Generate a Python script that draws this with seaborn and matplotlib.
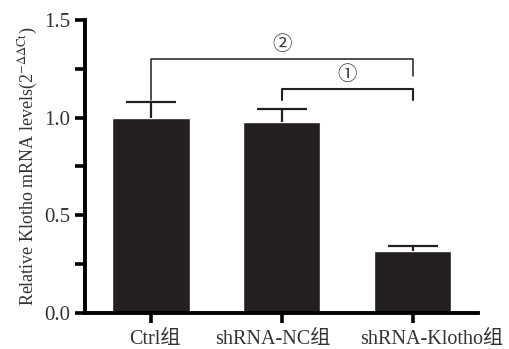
import matplotlib
matplotlib.use('Agg')
import matplotlib.pyplot as plt
import matplotlib.transforms as mtransforms
import seaborn as sns
import pandas as pd
from matplotlib.ticker import MultipleLocator, FormatStrFormatter

groups = ['Ctrl组', 'shRNA-NC组', 'shRNA-Klotho组']
levels = [1.00, 0.975, 0.32]
errors = [0.08, 0.07, 0.025]

df = pd.DataFrame({'group': groups, 'level': levels})

sns.set_style('ticks')
plt.rcParams['font.family'] = ['Liberation Serif', 'Noto Sans CJK SC', 'DejaVu Sans']
plt.rcParams['mathtext.fontset'] = 'stix'

fig = plt.figure(figsize=(5.1, 3.49), dpi=100)
ax = fig.add_axes([0.167, 0.103, 0.770, 0.840])

dark = '#231f20'
sns.barplot(data=df, x='group', y='level', color=dark, saturation=1,
            width=0.59, errorbar=None, ax=ax)
eb = ax.errorbar(range(len(groups)), levels, yerr=[[0] * 3, errors], fmt='none',
                 ecolor=dark, elinewidth=1.6, capsize=18, capthick=1.6)
eb[1][0].set_visible(False)  # hide the lower caps

# significance brackets
lw = 1.1
ax.plot([0, 0, 2, 2], [1.09, 1.30, 1.30, 1.215], color=dark, lw=lw)
ax.plot([1, 1, 2, 2], [1.09, 1.148, 1.148, 1.09], color=dark, lw=1.5)
ax.text(1, 1.32, '②', ha='center', va='bottom', fontsize=14,
        family=['Noto Sans CJK SC', 'DejaVu Sans'], color='#333333')
ax.text(1.5, 1.165, '①', ha='center', va='bottom', fontsize=14,
        family=['Noto Sans CJK SC', 'DejaVu Sans'], color='#333333')

ax.set_ylim(0, 1.5)
ax.set_xlim(-0.504, 2.5)
ax.yaxis.set_major_locator(MultipleLocator(0.5))
ax.yaxis.set_minor_locator(MultipleLocator(0.25))
ax.yaxis.set_major_formatter(FormatStrFormatter('%.1f'))
ax.set_xlabel('')
ax.set_ylabel('Relative Klotho mRNA levels(2$^{-\\Delta\\Delta \\mathrm{Ct}}$)', fontsize=13,
              color='#333333', labelpad=3)

for side in ['top', 'right']:
    ax.spines[side].set_visible(False)
for side in ['left', 'bottom']:
    ax.spines[side].set_linewidth(2.8)
    ax.spines[side].set_color('black')
ax.tick_params(axis='both', which='both', width=2.6, length=7, color='black',
               labelcolor='#333333')
ax.tick_params(axis='y', labelsize=15)
ax.tick_params(axis='x', labelsize=14.5, pad=5)

# nudge x labels apart as in the original
shifts = [4, -9, 19]
for lab, dx in zip(ax.get_xticklabels(), shifts):
    lab.set_transform(lab.get_transform() +
                      mtransforms.ScaledTranslation(dx / 100, 0, fig.dpi_scale_trans))

fig.savefig('out.png', dpi=100)
